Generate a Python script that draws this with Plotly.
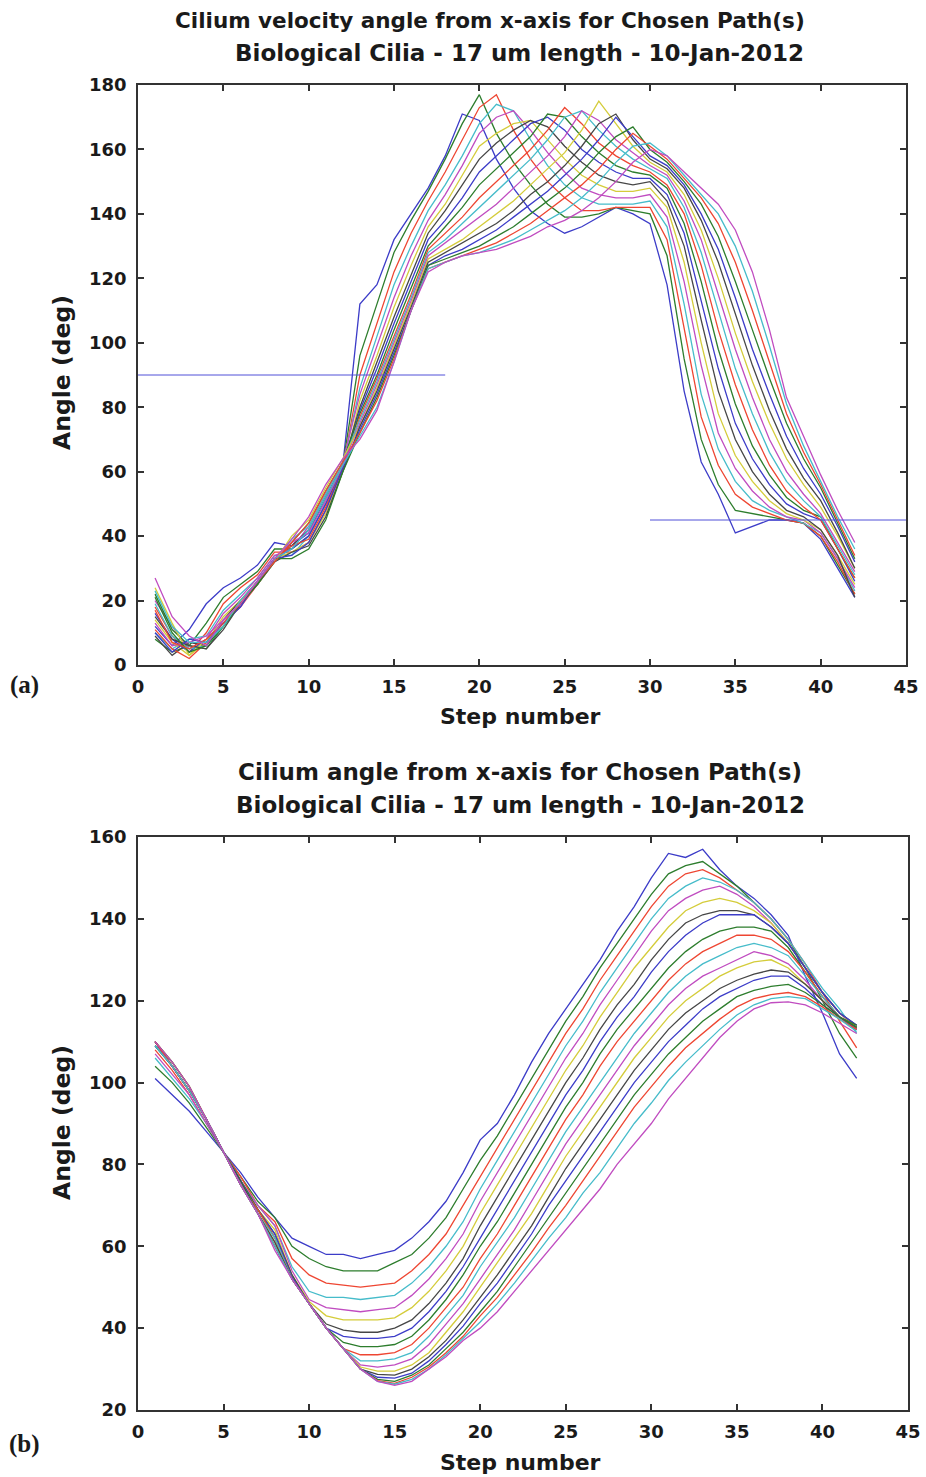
import plotly.graph_objects as go

# ---------------- data ----------------
steps = list(range(1, 43))

# (a) Cilium velocity angle from x-axis, one list per path (step 1..42)
vel_path_01 = [12,6,11,19,24,27,31,38,37,41,52,62,112,118,132,140,148,158,171,169,157,148,141,137,134,136,139,142,140,137,118,85,63,53,41,43,45,45,44,39,30,21]
vel_path_02 = [8,4,6,13,21,25,29,36,36,40,50,62,96,112,128,138,147,157,168,177,165,156,149,143,139,139,140,142,141,140,127,95,70,56,48,47,46,45,44,40,31,22]
vel_path_03 = [18,9,4,10,19,24,28,35,35,38,48,61,90,106,122,134,144,153,163,173,177,166,157,150,145,141,141,142,142,142,132,104,77,62,53,49,47,45,44,40,32,22]
vel_path_04 = [10,5,8,9,17,22,27,34,34,40,50,62,86,102,118,130,141,149,158,168,174,172,163,155,149,145,143,143,143,144,136,112,84,67,57,51,48,46,44,41,33,23]
vel_path_05 = [20,12,5,8,16,21,27,34,36,43,53,63,84,99,114,127,138,146,155,165,170,172,166,159,153,148,146,145,145,146,139,119,93,72,61,54,49,46,45,41,33,24]
vel_path_06 = [14,7,3,7,15,20,26,33,35,38,47,60,82,96,111,124,136,143,152,161,165,168,169,163,157,152,149,147,147,148,142,125,100,78,65,57,51,47,45,42,34,25]
vel_path_07 = [9,3,7,6,14,20,26,33,37,42,52,62,80,94,108,121,134,141,149,157,162,166,169,167,161,156,152,150,149,150,144,130,107,85,70,60,53,48,46,42,34,21]
vel_path_08 = [16,8,4,8,13,19,25,33,36,40,50,61,79,92,106,119,132,138,145,153,158,163,168,170,166,160,156,153,151,151,146,134,113,92,75,64,56,50,47,45,36,26]
vel_path_09 = [22,11,6,5,12,19,25,32,38,44,54,63,78,90,104,117,130,136,142,149,154,159,164,171,170,164,159,155,153,152,148,137,119,98,81,68,59,52,48,46,36,27]
vel_path_10 = [11,5,2,7,13,18,25,33,37,39,49,61,77,89,102,115,129,134,139,145,150,155,160,166,173,168,162,158,155,153,149,140,124,104,87,73,62,54,49,45,36,27]
vel_path_11 = [19,9,5,6,12,19,25,32,39,43,53,63,76,88,101,114,128,132,137,142,147,152,157,163,170,172,166,161,157,154,151,142,128,110,92,78,66,57,51,46,37,28]
vel_path_12 = [13,6,7,9,14,18,26,33,38,41,51,62,75,87,100,113,127,131,135,139,143,148,153,158,164,172,169,163,159,155,152,144,132,115,98,83,70,60,53,47,38,29]
vel_path_13 = [24,13,3,8,12,20,25,32,40,45,55,64,74,86,99,112,126,129,132,136,140,144,149,154,159,166,175,168,161,156,153,146,135,120,103,88,75,64,56,49,40,30]
vel_path_14 = [15,8,6,5,11,19,25,32,35,37,46,60,74,85,98,111,125,128,131,134,137,141,146,150,155,161,168,171,163,157,154,148,138,125,109,93,79,67,58,51,41,30]
vel_path_15 = [10,4,8,7,13,18,26,33,34,38,48,61,73,84,97,110,124,127,129,132,135,139,143,147,152,157,163,170,164,158,155,149,140,129,114,98,84,71,61,53,43,32]
vel_path_16 = [21,10,4,6,12,19,25,33,33,36,45,60,72,83,96,110,124,126,128,130,133,136,140,144,148,153,159,164,167,160,156,150,143,133,119,104,89,75,64,55,44,33]
vel_path_17 = [17,7,5,8,13,19,26,32,38,44,54,63,72,82,95,110,123,125,127,129,131,134,137,141,145,149,154,160,165,161,157,151,145,137,125,110,94,78,66,56,45,34]
vel_path_18 = [23,12,7,7,12,20,26,33,36,42,52,62,71,80,94,110,123,125,127,128,130,132,135,138,141,145,150,156,161,162,158,152,146,140,130,116,99,81,68,57,46,36]
vel_path_19 = [27,15,9,6,14,19,26,33,39,46,56,64,70,79,94,110,122,125,127,128,129,131,133,136,138,141,145,150,156,160,158,153,148,143,135,122,104,83,71,59,48,38]

# reference lines in (a)
ref_high_x = [0, 18]
ref_high_y = [90, 90]
ref_low_x = [30, 45]
ref_low_y = [45, 45]

# (b) Cilium angle from x-axis, one list per path (step 1..42)
ang_path_01 = [101,97,93,88,83,78,72,67,62,60,58,58,57,58,59,62,66,71,78,86,90,97,105,112,118,124,130,137,143,150,156,155,157,152,148,145,141,136,126,117,107,101]
ang_path_02 = [104,100,95,89,83,77,71,67,60,57,55,54,54,54,56,58,62,67,74,81,87,94,101,108,115,121,128,134,140,146,151,153,154,151,148,144,140,135,128,120,112,106]
ang_path_03 = [108,103,97,90,83,77,70,66,57,53,51,50.5,50,50.5,51,54,58,63,70,77,84,91,98,105,112,118,125,131,137,143,148,151,152,150,147,144,140,135,129,122,115,108.5]
ang_path_04 = [106,101,96,90,83,76,70,65,55,49,47.5,47.5,47,47.5,48,51,55,60,66,74,81,88,95,102,109,115,122,128,134,140,145,148,150,149,147,144,140,135,129,123,118,112]
ang_path_05 = [107,102,97,90,83,76,70,65,54,47,45,44.5,44,44.5,45,48,52,57,63,71,78,85,92,99,106,112,119,125,131,137,142,145,147,148,146,143,139,134,128,122,117,113]
ang_path_06 = [109,104,98,91,83,76,69,64,53,46.5,43,42,42,42,42.5,45,49,54,60,68,75,82,89,96,103,109,116,122,128,133,138,142,144,145,144,142,139,134,128,122,117,113.5]
ang_path_07 = [110,104,98,91,83,76,69,63,53,46,41,39.5,39,39,40,42,46,51,57,65,72,79,86,93,100,106,113,119,124,130,135,139,141,142,142,141,138,134,128,122,117,114]
ang_path_08 = [109,104,98,91,83,76,69,63,52.5,46,40,38,37.5,37.5,38,40,44,49,55,62,69,76,83,90,97,103,110,116,121,127,132,136,139,141,141,141,138,134,128,122,117,114]
ang_path_09 = [110,104,98,91,83,76,69,62,52,46,40,36.5,35.5,35.5,36,38,42,47,53,60,66,73,80,87,94,100,107,113,118,123,128,132,135,137,138,138,137,133,127,121,116,114]
ang_path_10 = [110,105,99,91,83,75,69,62,52,46,40,35,33.5,33.5,34,36,40,45,50,57,63,70,77,84,91,97,104,110,115,120,125,129,132,134,136,136,135,132,127,121,116,113.5]
ang_path_11 = [109,104,98,91,83,76,68,62,52,46,40,35,32,32,32.5,34,38,43,48,55,61,67,74,81,88,94,100,106,112,117,122,126,129,131,133,134,133,131,126,121,116,113]
ang_path_12 = [110,104,98,91,83,75,68,61,52,46,40,35,31,30.5,31,32.5,36,41,46,52,58,64,71,78,85,91,97,103,109,114,119,123,126,128,130,132,131,129,125,120,116,113]
ang_path_13 = [110,105,99,91,83,75,68,61,52,46,40,35,30.5,29.5,29.5,31,34,39,44,50,56,62,68,75,82,88,94,100,106,111,116,120,123,126,128,129.5,130,128,124,120,116,113]
ang_path_14 = [109,104,98,91,83,76,68,61,52,46,40,35,30,28.7,28.5,30,33,37,42,47.5,53,59,65,72,79,85,91,97,103,108,113,117,120,123,125,126.5,127.5,127,124,120,116,113.5]
ang_path_15 = [110,104,98,91,83,75,68,60,52,46,40,35,30,28,27.8,29,32,36,40.5,46,51,57,63,70,76,82,88,94,100,105,110,114,118,121,123,125,126,126,123,119,116,113]
ang_path_16 = [110,105,99,91,83,75,68,60,52,46,40,35,30,27.5,27,28.5,31,35,39,44,49,55,61,67,73,79,85,91,97,102,107,111,115,118,121,122.5,123.5,124,122,119,116,113.5]
ang_path_17 = [110,104,98,91,83,75,68,60,52,46,40,35,30,27.2,26.5,28,30.5,34,38,43,47.5,53,58.5,64.5,70,76,82,88,94,99,104,108.5,112,115.5,118.5,120.5,121.5,122,121,118.5,115.5,113]
ang_path_18 = [109,104,98,91,83,75,68,60,52,46,40,35,30,27,26.3,27.5,30,33.5,37.5,41.5,46,51,56.5,62,67,73,78,84,90,95,100.5,105,109,113,116.5,119,120.5,121,120.5,118,115.5,112.5]
ang_path_19 = [110,105,99,91,83,75,68,59,52,46,40,35,30,27,26,27,30,33,37,40,44,49,54,59,64,69,74,80,85,90,96,101,106,111,115,118,119.5,119.7,119,117,114.5,112]

x_ticks = [0, 5, 10, 15, 20, 25, 30, 35, 40, 45]
y_ticks_a = [0, 20, 40, 60, 80, 100, 120, 140, 160, 180]
y_ticks_b = [20, 40, 60, 80, 100, 120, 140, 160]

line_colors = ["#3c3cc8", "#2d7d2d", "#ee4632", "#46bcca", "#c04cc0", "#d4cc3a", "#464646"]

vel_paths = [vel_path_01, vel_path_02, vel_path_03, vel_path_04, vel_path_05, vel_path_06, vel_path_07,
             vel_path_08, vel_path_09, vel_path_10, vel_path_11, vel_path_12, vel_path_13, vel_path_14,
             vel_path_15, vel_path_16, vel_path_17, vel_path_18, vel_path_19]
ang_paths = [ang_path_01, ang_path_02, ang_path_03, ang_path_04, ang_path_05, ang_path_06, ang_path_07,
             ang_path_08, ang_path_09, ang_path_10, ang_path_11, ang_path_12, ang_path_13, ang_path_14,
             ang_path_15, ang_path_16, ang_path_17, ang_path_18, ang_path_19]

# ---------------- figure ----------------
W, H = 926, 1477
fig = go.Figure()

for i, ys in enumerate(vel_paths):
    fig.add_trace(go.Scatter(x=steps, y=ys, mode="lines", xaxis="x", yaxis="y",
                             line=dict(color=line_colors[i % 7], width=1.3), showlegend=False))
fig.add_trace(go.Scatter(x=ref_high_x, y=ref_high_y, mode="lines", xaxis="x", yaxis="y",
                         line=dict(color="#5050d8", width=1), showlegend=False))
fig.add_trace(go.Scatter(x=ref_low_x, y=ref_low_y, mode="lines", xaxis="x", yaxis="y",
                         line=dict(color="#5050d8", width=1), showlegend=False))

for i, ys in enumerate(ang_paths):
    fig.add_trace(go.Scatter(x=steps, y=ys, mode="lines", xaxis="x2", yaxis="y2",
                             line=dict(color=line_colors[i % 7], width=1.3), showlegend=False))


def px_x(p):
    return p / W


def px_y(p):
    return 1 - p / H


tick_font = dict(family="DejaVu Sans", size=18, color="#1a1a1a", weight="bold")
axis_common = dict(showgrid=False, zeroline=False, showline=True, linecolor="#333333", linewidth=1.5,
                   mirror="ticks", ticks="inside", ticklen=6, tickwidth=1.5, tickcolor="#333333",
                   tickfont=tick_font, automargin=False)

fig.update_layout(
    template="none",
    width=W, height=H, margin=dict(l=0, r=0, t=0, b=0, pad=0), autosize=False,
    paper_bgcolor="white", plot_bgcolor="white",
    xaxis=dict(domain=[px_x(138), px_x(906)], range=[0, 45], tickvals=x_ticks, anchor="y",
               ticklabelstandoff=5, **axis_common),
    yaxis=dict(domain=[px_y(665), px_y(85)], range=[0, 180], tickvals=y_ticks_a, anchor="x",
               ticklabelstandoff=6, **axis_common),
    xaxis2=dict(domain=[px_x(138), px_x(908)], range=[0, 45], tickvals=x_ticks, anchor="y2",
                ticklabelstandoff=5, **axis_common),
    yaxis2=dict(domain=[px_y(1410), px_y(837)], range=[20, 160], tickvals=y_ticks_b, anchor="x2",
                ticklabelstandoff=6, **axis_common),
)


def tfont(size):
    return dict(family="DejaVu Sans", size=size, color="#1a1a1a", weight="bold")


label_font = dict(family="DejaVu Sans", size=22, color="#1a1a1a", weight="bold")
ylabel_font = dict(family="DejaVu Sans", size=23.5, color="#1a1a1a", weight="bold")
tag_font = dict(family="Liberation Serif", size=25, color="#1a1a1a", weight="bold")

annotations = [
    dict(text="Cilium velocity angle from x-axis for Chosen Path(s)", x=px_x(490), y=px_y(20), font=tfont(21.5)),
    dict(text="Biological Cilia - 17 um length - 10-Jan-2012", x=px_x(519), y=px_y(53), font=tfont(23)),
    dict(text="Cilium angle from x-axis for Chosen Path(s)", x=px_x(520), y=px_y(772), font=tfont(23)),
    dict(text="Biological Cilia - 17 um length - 10-Jan-2012", x=px_x(520), y=px_y(805), font=tfont(23)),
    dict(text="Step number", x=px_x(520), y=px_y(717), font=label_font),
    dict(text="Step number", x=px_x(520), y=px_y(1462), font=label_font),
    dict(text="Angle (deg)", x=px_x(62), y=px_y(373), font=ylabel_font, textangle=-90),
    dict(text="Angle (deg)", x=px_x(62), y=px_y(1123), font=ylabel_font, textangle=-90),
    dict(text="(a)", x=px_x(24), y=px_y(685), font=tag_font),
    dict(text="(b)", x=px_x(24), y=px_y(1444), font=tag_font),
]
for a in annotations:
    a.update(xref="paper", yref="paper", xanchor="center", yanchor="middle", showarrow=False)
fig.update_layout(annotations=annotations)

# The page gets no body margin and no scrollbars, so the figure fills the 926x1477 window exactly.
fig.write_html(
    "out.html",
    post_script=("document.documentElement.style.margin='0';document.body.style.margin='0';"
                 "document.documentElement.style.overflow='hidden';document.body.style.overflow='hidden';"),
)
